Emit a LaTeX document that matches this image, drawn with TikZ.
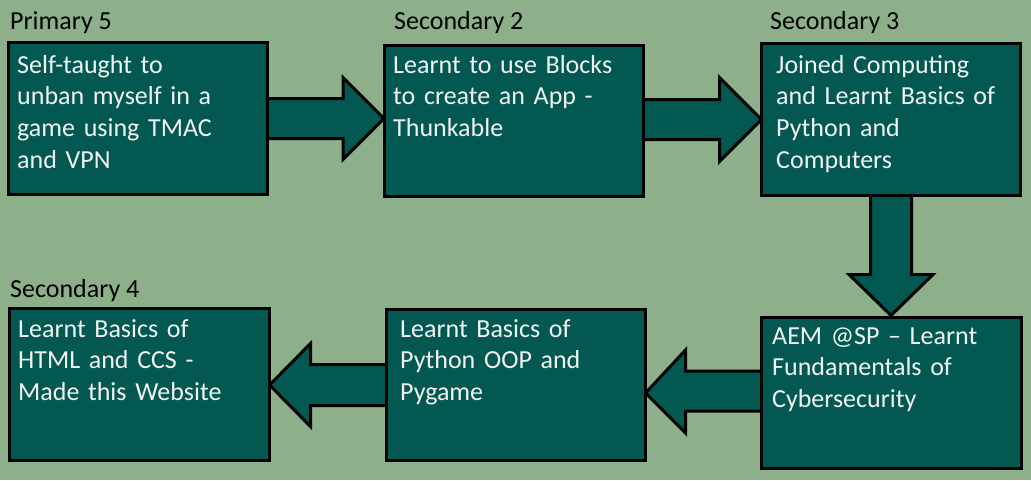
\documentclass[tikz,border=0pt]{standalone}
\usepackage{fontspec}
\setmainfont{Carlito}
\usetikzlibrary{calc}
\definecolor{bgc}{RGB}{141,176,138}
\definecolor{boxc}{RGB}{3,88,82}
\definecolor{txtc}{RGB}{242,244,242}
\tikzset{
  box/.style={draw=black, line width=3pt, fill=boxc, anchor=north west, inner sep=0pt},
  boxtext/.style={anchor=base west, inner sep=0pt, text=txtc, align=left, text width=245pt,
    font=\fontsize{26}{31.7}\selectfont},
  lbl/.style={anchor=base west, inner sep=0pt, text=black, font=\fontsize{26}{31.7}\selectfont},
  blockarrow/.style={draw=black, line width=3pt, fill=boxc, line join=miter}
}
\begin{document}
\begin{tikzpicture}[x=1pt,y=-1pt]
\fill[bgc] (0,0) rectangle (1031,480);
\useasboundingbox (0,0) rectangle (1031,480);
% boxes
\path
  node[box, minimum width=256pt, minimum height=149pt] (b1) at (8.5,42.5) {}
  node[box, minimum width=256pt, minimum height=148pt] (b2) at (384,45) {}
  node[box, minimum width=256pt, minimum height=149pt] (b3) at (761.5,43.5) {}
  node[box, minimum width=257pt, minimum height=148pt] (b4) at (761.5,317.5) {}
  node[box, minimum width=256pt, minimum height=148pt] (b5) at (386.5,309.5) {}
  node[box, minimum width=257pt, minimum height=149pt] (b6) at (9.5,308.5) {};
% arrows
\draw[blockarrow] let \p1=(b1.east), \p2=(b2.west) in
  (\x1-2pt,\y1+20pt) -- (\x2-41pt,\y1+20pt) -- (\x2-41pt,\y1+41pt) -- (\x2,\y1)
  -- (\x2-41pt,\y1-41pt) -- (\x2-41pt,\y1-20pt) -- (\x1-2pt,\y1-20pt) -- cycle;
\draw[blockarrow] let \p1=(b2.east), \p2=(b3.west) in
  (\x1-2pt,\y2+20pt) -- (\x2-42pt,\y2+20pt) -- (\x2-42pt,\y2+42pt) -- (\x2,\y2)
  -- (\x2-42pt,\y2-42pt) -- (\x2-42pt,\y2-20pt) -- (\x1-2pt,\y2-20pt) -- cycle;
\draw[blockarrow] let \p1=(b3.south), \p2=(b4.north) in
  (\x1-20.5pt,\y1+2pt) -- (\x1-20.5pt,\y2+43pt) -- (\x1-42pt,\y2+43pt) -- (\x1,\y2+2pt)
  -- (\x1+42pt,\y2+43pt) -- (\x1+20.5pt,\y2+43pt) -- (\x1+20.5pt,\y1+2pt) -- cycle;
\draw[blockarrow] let \p1=(b4.west), \p2=(b5.east) in
  (\x1+2pt,\y1+22pt) -- (\x2+40pt,\y1+22pt) -- (\x2+40pt,\y1+43pt) -- (\x2,\y1)
  -- (\x2+40pt,\y1-40pt) -- (\x2+40pt,\y1-18pt) -- (\x1+2pt,\y1-18pt) -- cycle;
\draw[blockarrow] let \p1=(b5.west), \p2=(b6.east) in
  (\x1+2pt,\y1+20.5pt) -- (\x2+41pt,\y1+20.5pt) -- (\x2+41pt,\y1+41.5pt) -- (\x2,\y1)
  -- (\x2+41pt,\y1-41.5pt) -- (\x2+41pt,\y1-20.5pt) -- (\x1+2pt,\y1-20.5pt) -- cycle;
% redraw boxes on top of arrow shafts
\foreach \b in {b1,b2,b3,b4,b5,b6} {
  \draw[draw=black, line width=3pt, fill=boxc] (\b.north west) rectangle (\b.south east);
}
% labels
\node[lbl] (l1) at (10,29) {Primary 5};
\node[lbl] (l2) at (394,29) {Secondary 2};
\node[lbl] (l3) at (770,29) {Secondary 3};
\node[lbl] (l4) at (10,297) {Secondary 4};
% box texts
\node[boxtext] (t1) at (17,73) {Self-taught to\\unban myself in a\\game using TMAC\\and VPN};
\node[boxtext] (t2) at (393,73) {Learnt to use Blocks\\to create an App -\\Thunkable};
\node[boxtext] (t3) at (776,73) {Joined Computing\\and Learnt Basics of\\Python and\\Computers};
\node[boxtext] (t4) at (772,344) {AEM @SP -- Learnt\\Fundamentals of\\Cybersecurity};
\node[boxtext] (t5) at (400,337) {Learnt Basics of\\Python OOP and\\Pygame};
\node[boxtext] (t6) at (18,337) {Learnt Basics of\\HTML and CCS -\\Made this Website};
\end{tikzpicture}
\end{document}
